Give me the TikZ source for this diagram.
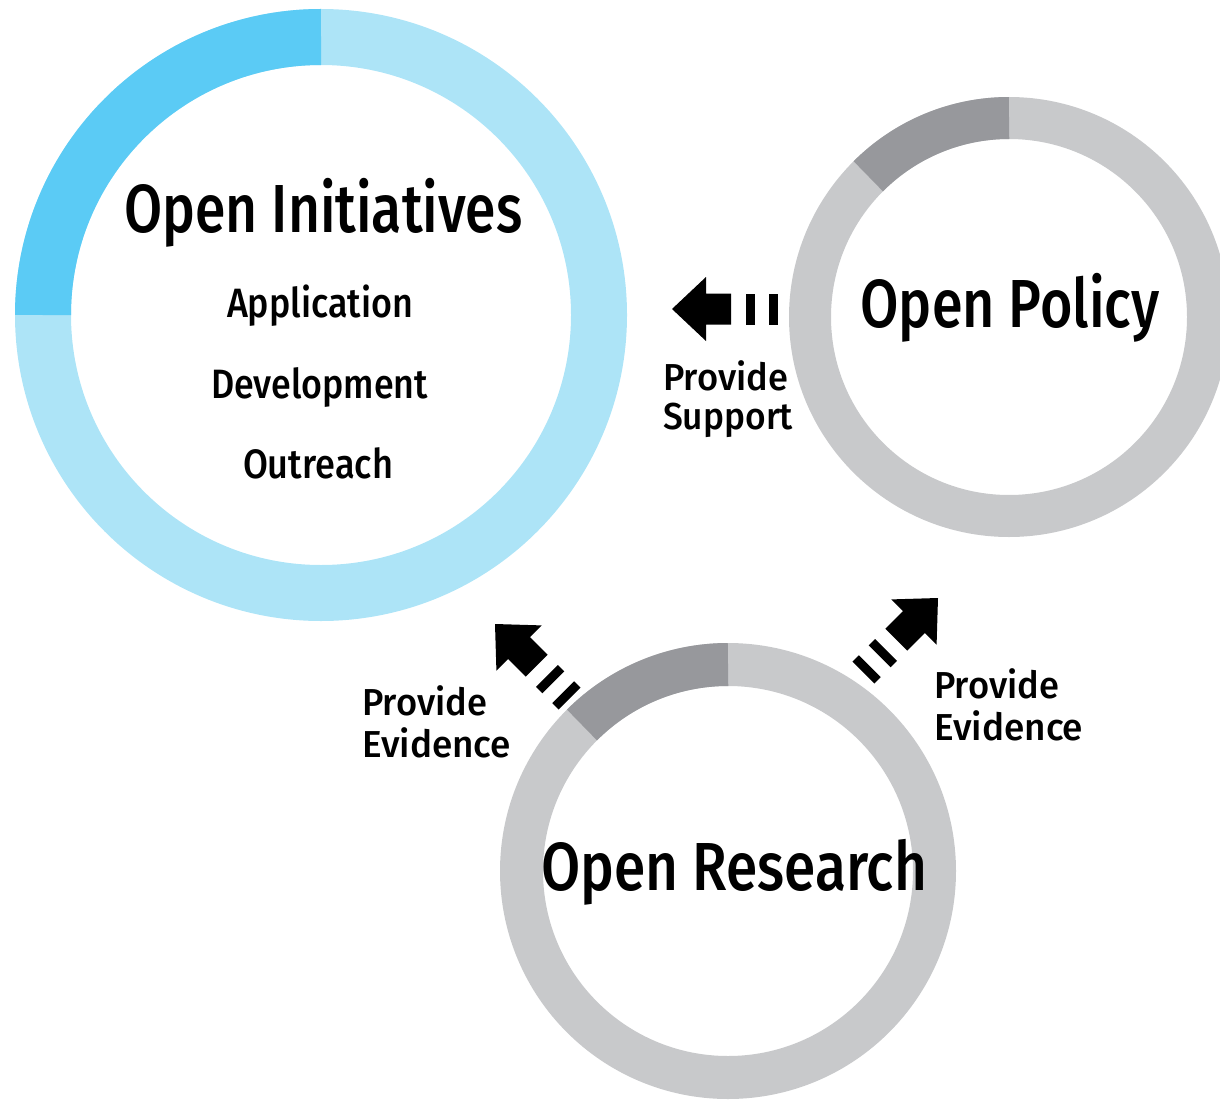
\documentclass[tikz,border=0pt]{standalone}
\usepackage{fontspec}
\setmainfont{Fira Sans Medium}
\usepackage{graphicx}
\definecolor{blueLight}{HTML}{ADE4F7}
\definecolor{blueDark}{HTML}{5BCBF5}
\definecolor{grayLight}{HTML}{C8C9CB}
\definecolor{grayDark}{HTML}{97989C}
\newcommand\fitw[2]{\resizebox{#1pt}{\height}{#2}}
\tikzset{
  title/.style={inner sep=0pt, anchor=base, font=\fontsize{68}{70}\selectfont},
  item/.style={inner sep=0pt, anchor=base, font=\fontsize{41}{43}\selectfont},
  lbl/.style={inner sep=0pt, anchor=base west, font=\fontsize{37.5}{40}\selectfont},
  fatarrow/.pic={
    \fill[black] (0,0) -- (34,-32) -- (34,-15.5) -- (59,-15.5) -- (59,15.5) -- (34,15.5) -- (34,32) -- cycle;
    \fill[black] (73.5,-15.5) rectangle (82.5,15.5);
    \fill[black] (96.5,-15.5) rectangle (105.5,15.5);
  }
}
\begin{document}
\begin{tikzpicture}[x=1pt,y=-1pt]
\useasboundingbox (0,0) rectangle (1220,1102);
% Open Initiatives ring
\coordinate (ci) at (321,315);
\draw[blueLight, line width=56pt] (ci) circle[radius=278];
\draw[blueDark, line width=56pt] (ci) ++(180:278) arc[start angle=180, end angle=270, radius=278];
% Open Policy ring
\coordinate (cp) at (1009,317);
\draw[grayLight, line width=42pt] (cp) circle[radius=199];
\draw[grayDark, line width=42pt] (cp) ++(225:199) arc[start angle=225, end angle=270, radius=199];
% Open Research ring
\coordinate (cr) at (728,871);
\draw[grayLight, line width=43pt] (cr) circle[radius=206.5];
\draw[grayDark, line width=43pt] (cr) ++(225:206.5) arc[start angle=225, end angle=270, radius=206.5];
% arrows
\pic[rotate=0] at (672,309) {fatarrow};
\pic[rotate=-45] at (495,624) {fatarrow};
\pic[rotate=-135] at (938,598) {fatarrow};
% texts
\node[title] (ti) at (323.5,232) {\fitw{398}{Open Initiatives}};
\node[item] (app) at (320,317) {\fitw{186}{Application}};
\node[item] (dev) at (319.5,398) {\fitw{217}{Development}};
\node[item] (out) at (318,478) {\fitw{150}{Outreach}};
\node[title] (tp) at (1010,327) {\fitw{299}{Open Policy}};
\node[title] (tr) at (734,890) {\fitw{386}{Open Research}};
\node[lbl] (s1) at (663,390) {\fitw{125}{Provide}};
\node[lbl] (s2) at (663,429) {\fitw{130}{Support}};
\node[lbl] (l1) at (362,715) {\fitw{125}{Provide}};
\node[lbl] (l2) at (362,757) {\fitw{149}{Evidence}};
\node[lbl] (r1) at (934,698) {\fitw{125}{Provide}};
\node[lbl] (r2) at (934,740) {\fitw{149}{Evidence}};
\end{tikzpicture}
\end{document}
